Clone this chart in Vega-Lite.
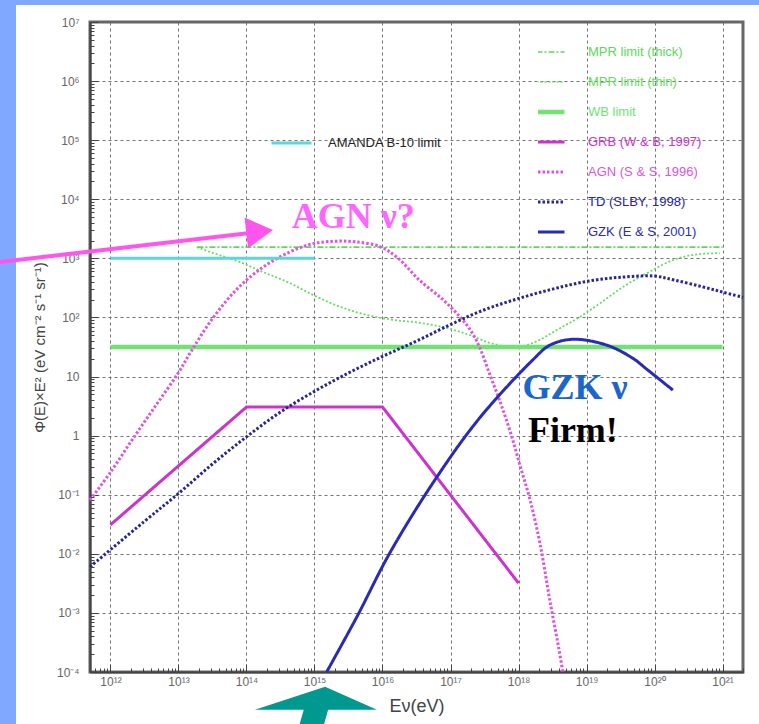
{
  "$schema": "https://vega.github.io/schema/vega-lite/v6.json",
  "width": 653,
  "height": 650,
  "autosize": {"type": "none"},
  "padding": {"left": 90, "top": 22, "right": 16, "bottom": 52},
  "background": "white",
  "config": {
    "view": {"stroke": "#666", "strokeWidth": 3},
    "axis": {"labelFont": "Liberation Sans", "titleFont": "Liberation Sans"}
  },
  "datasets": {
    "curves": [
      {"s": "MPR limit (thick)", "E": 1.9e13, "F": 1550},
      {"s": "MPR limit (thick)", "E": 1e21, "F": 1550},
      {"s": "MPR limit (thin)", "E": 1.86e13, "F": 1550},
      {"s": "MPR limit (thin)", "E": 3.24e13, "F": 1230},
      {"s": "MPR limit (thin)", "E": 7.94e13, "F": 871},
      {"s": "MPR limit (thin)", "E": 1.74e14, "F": 589},
      {"s": "MPR limit (thin)", "E": 4.37e14, "F": 380},
      {"s": "MPR limit (thin)", "E": 9.55e14, "F": 240},
      {"s": "MPR limit (thin)", "E": 2.4e15, "F": 151},
      {"s": "MPR limit (thin)", "E": 5.89e15, "F": 110},
      {"s": "MPR limit (thin)", "E": 1.45e16, "F": 91},
      {"s": "MPR limit (thin)", "E": 3.55e16, "F": 81},
      {"s": "MPR limit (thin)", "E": 8.91e16, "F": 66},
      {"s": "MPR limit (thin)", "E": 1.95e17, "F": 50},
      {"s": "MPR limit (thin)", "E": 3.8e17, "F": 37},
      {"s": "MPR limit (thin)", "E": 9.55e17, "F": 31.6},
      {"s": "MPR limit (thin)", "E": 1.62e18, "F": 37},
      {"s": "MPR limit (thin)", "E": 3.72e18, "F": 62},
      {"s": "MPR limit (thin)", "E": 7.94e18, "F": 102},
      {"s": "MPR limit (thin)", "E": 1.58e19, "F": 174},
      {"s": "MPR limit (thin)", "E": 3.47e19, "F": 331},
      {"s": "MPR limit (thin)", "E": 7.76e19, "F": 562},
      {"s": "MPR limit (thin)", "E": 1.86e20, "F": 933},
      {"s": "MPR limit (thin)", "E": 3.72e20, "F": 1150},
      {"s": "MPR limit (thin)", "E": 9.12e20, "F": 1230},
      {"s": "WB limit", "E": 1e12, "F": 31.6},
      {"s": "WB limit", "E": 1e21, "F": 31.6},
      {"s": "GRB (W & B, 1997)", "E": 1e12, "F": 0.031},
      {"s": "GRB (W & B, 1997)", "E": 1e14, "F": 3.05},
      {"s": "GRB (W & B, 1997)", "E": 1e16, "F": 3.05},
      {"s": "GRB (W & B, 1997)", "E": 1e18, "F": 0.0032},
      {"s": "AGN (S & S, 1996)", "E": 5.0e11, "F": 0.0813},
      {"s": "AGN (S & S, 1996)", "E": 1e12, "F": 0.24},
      {"s": "AGN (S & S, 1996)", "E": 2.14e12, "F": 0.89},
      {"s": "AGN (S & S, 1996)", "E": 4.57e12, "F": 3.16},
      {"s": "AGN (S & S, 1996)", "E": 9.77e12, "F": 11.2},
      {"s": "AGN (S & S, 1996)", "E": 1.58e13, "F": 28.2},
      {"s": "AGN (S & S, 1996)", "E": 3.16e13, "F": 95.5},
      {"s": "AGN (S & S, 1996)", "E": 7.24e13, "F": 302},
      {"s": "AGN (S & S, 1996)", "E": 1.74e14, "F": 708},
      {"s": "AGN (S & S, 1996)", "E": 4.37e14, "F": 1290},
      {"s": "AGN (S & S, 1996)", "E": 9.55e14, "F": 1780},
      {"s": "AGN (S & S, 1996)", "E": 2e15, "F": 1950},
      {"s": "AGN (S & S, 1996)", "E": 3.98e15, "F": 1905},
      {"s": "AGN (S & S, 1996)", "E": 9.12e15, "F": 1585},
      {"s": "AGN (S & S, 1996)", "E": 1.62e16, "F": 1050},
      {"s": "AGN (S & S, 1996)", "E": 3.55e16, "F": 420},
      {"s": "AGN (S & S, 1996)", "E": 7.76e16, "F": 200},
      {"s": "AGN (S & S, 1996)", "E": 1.38e17, "F": 102},
      {"s": "AGN (S & S, 1996)", "E": 1.95e17, "F": 61.7},
      {"s": "AGN (S & S, 1996)", "E": 2.69e17, "F": 30.9},
      {"s": "AGN (S & S, 1996)", "E": 3.8e17, "F": 10.7},
      {"s": "AGN (S & S, 1996)", "E": 5.37e17, "F": 3.72},
      {"s": "AGN (S & S, 1996)", "E": 7.59e17, "F": 1.15},
      {"s": "AGN (S & S, 1996)", "E": 1.05e18, "F": 0.316},
      {"s": "AGN (S & S, 1996)", "E": 1.48e18, "F": 0.0813},
      {"s": "AGN (S & S, 1996)", "E": 2.09e18, "F": 0.0141},
      {"s": "AGN (S & S, 1996)", "E": 2.88e18, "F": 0.00166},
      {"s": "AGN (S & S, 1996)", "E": 4.07e18, "F": 0.000195},
      {"s": "AGN (S & S, 1996)", "E": 4.47e18, "F": 0.0001},
      {"s": "TD (SLBY, 1998)", "E": 5.01e11, "F": 0.00603},
      {"s": "TD (SLBY, 1998)", "E": 3.16e12, "F": 0.0355},
      {"s": "TD (SLBY, 1998)", "E": 1e13, "F": 0.105},
      {"s": "TD (SLBY, 1998)", "E": 3.16e13, "F": 0.331},
      {"s": "TD (SLBY, 1998)", "E": 1e14, "F": 0.955},
      {"s": "TD (SLBY, 1998)", "E": 3.16e14, "F": 2.51},
      {"s": "TD (SLBY, 1998)", "E": 1e15, "F": 5.62},
      {"s": "TD (SLBY, 1998)", "E": 3.16e15, "F": 11.5},
      {"s": "TD (SLBY, 1998)", "E": 1e16, "F": 21.9},
      {"s": "TD (SLBY, 1998)", "E": 3.16e16, "F": 39.8},
      {"s": "TD (SLBY, 1998)", "E": 1e17, "F": 75.9},
      {"s": "TD (SLBY, 1998)", "E": 3.16e17, "F": 135},
      {"s": "TD (SLBY, 1998)", "E": 1e18, "F": 209},
      {"s": "TD (SLBY, 1998)", "E": 3.16e18, "F": 302},
      {"s": "TD (SLBY, 1998)", "E": 1e19, "F": 407},
      {"s": "TD (SLBY, 1998)", "E": 3.16e19, "F": 479},
      {"s": "TD (SLBY, 1998)", "E": 1e20, "F": 501},
      {"s": "TD (SLBY, 1998)", "E": 2e20, "F": 427},
      {"s": "TD (SLBY, 1998)", "E": 5e20, "F": 331},
      {"s": "TD (SLBY, 1998)", "E": 1e21, "F": 269},
      {"s": "TD (SLBY, 1998)", "E": 2e21, "F": 219},
      {"s": "GZK (E & S, 2001)", "E": 1.51e15, "F": 0.0001},
      {"s": "GZK (E & S, 2001)", "E": 4.27e15, "F": 0.00089},
      {"s": "GZK (E & S, 2001)", "E": 1.29e16, "F": 0.0105},
      {"s": "GZK (E & S, 2001)", "E": 6.31e16, "F": 0.2},
      {"s": "GZK (E & S, 2001)", "E": 2.69e17, "F": 2.0},
      {"s": "GZK (E & S, 2001)", "E": 1.62e18, "F": 19.1},
      {"s": "GZK (E & S, 2001)", "E": 2.88e18, "F": 33.9},
      {"s": "GZK (E & S, 2001)", "E": 6.3e18, "F": 42.7},
      {"s": "GZK (E & S, 2001)", "E": 2e19, "F": 33.9},
      {"s": "GZK (E & S, 2001)", "E": 4.79e19, "F": 20.4},
      {"s": "GZK (E & S, 2001)", "E": 7.76e19, "F": 13.2},
      {"s": "GZK (E & S, 2001)", "E": 1.86e20, "F": 5.9}
    ],
    "amanda": [
      {"name": "AMANDA B-10 limit", "E": 1e12, "F": 1000},
      {"name": "AMANDA B-10 limit", "E": 1e15, "F": 1000}
    ]
  },
  "layer": [
    {
      "data": {"name": "curves"},
      "transform": [{"filter": {"field": "s", "oneOf": ["MPR limit (thick)", "MPR limit (thin)"]}}],
      "mark": {"type": "line", "strokeCap": "butt", "strokeWidth": 1.8, "interpolate": "monotone"},
      "encoding": {
        "x": {
          "field": "E", "type": "quantitative",
          "scale": {"type": "log", "domain": [5e11, 2e21]},
          "axis": {
            "title": "Eν(eV)", "titleFontSize": 18, "titleFontWeight": "normal", "titleColor": "#444", "titlePadding": 6,
            "tickCount": 20, "labelOverlap": false, "labelFlush": false,
            "labelExpr": "abs(log(datum.value)/LN10 - round(log(datum.value)/LN10)) > 0.001 ? '' : round(log(datum.value)/LN10) == 0 ? '1' : round(log(datum.value)/LN10) == 1 ? '10' : '10' + (round(log(datum.value)/LN10) < 0 ? '⁻' : '') + ['','¹','²'][floor(abs(round(log(datum.value)/LN10))/10)] + ['⁰','¹','²','³','⁴','⁵','⁶','⁷','⁸','⁹'][abs(round(log(datum.value)/LN10)) % 10]",
            "labelFontSize": 12, "labelColor": "#666", "labelPadding": 12,
            "grid": true, "gridDash": [3, 3], "gridColor": "#666", "gridWidth": 1,
            "gridOpacity": {"condition": {"test": "abs(log(datum.value)/LN10 - round(log(datum.value)/LN10)) < 0.001", "value": 0.9}, "value": 0},
            "tickSize": {"condition": {"test": "abs(log(datum.value)/LN10 - round(log(datum.value)/LN10)) < 0.001", "value": -8}, "value": -4},
            "tickColor": "#444", "tickWidth": 1,
            "domainColor": "#444", "domainWidth": 2
          }
        },
        "y": {
          "field": "F", "type": "quantitative",
          "scale": {"type": "log", "domain": [1e-4, 1e7]},
          "axis": {
            "title": "Φ(E)×E² (eV cm⁻² s⁻¹ sr⁻¹)", "titleFontSize": 15, "titleFontWeight": "normal", "titleColor": "#444", "titlePadding": 9,
            "tickCount": 20, "labelOverlap": false, "labelFlush": false,
            "labelExpr": "abs(log(datum.value)/LN10 - round(log(datum.value)/LN10)) > 0.001 ? '' : round(log(datum.value)/LN10) == 0 ? '1' : round(log(datum.value)/LN10) == 1 ? '10' : '10' + (round(log(datum.value)/LN10) < 0 ? '⁻' : '') + ['','¹','²'][floor(abs(round(log(datum.value)/LN10))/10)] + ['⁰','¹','²','³','⁴','⁵','⁶','⁷','⁸','⁹'][abs(round(log(datum.value)/LN10)) % 10]",
            "labelFontSize": 12, "labelColor": "#666", "labelPadding": 19,
            "grid": true, "gridDash": [3, 3], "gridColor": "#666", "gridWidth": 1,
            "gridOpacity": {"condition": {"test": "abs(log(datum.value)/LN10 - round(log(datum.value)/LN10)) < 0.001", "value": 0.9}, "value": 0},
            "tickSize": {"condition": {"test": "abs(log(datum.value)/LN10 - round(log(datum.value)/LN10)) < 0.001", "value": -8}, "value": -4},
            "tickColor": "#444", "tickWidth": 1,
            "domainColor": "#444", "domainWidth": 2
          }
        },
        "color": {
          "field": "s", "type": "nominal",
          "scale": {
            "domain": ["MPR limit (thick)", "MPR limit (thin)", "WB limit", "GRB (W & B, 1997)", "AGN (S & S, 1996)", "TD (SLBY, 1998)", "GZK (E & S, 2001)"],
            "range": ["#5ed85a", "#66dd5e", "#72e272", "#cc33cc", "#dd55dd", "#262696", "#2a2ab8"]
          },
          "legend": {
            "orient": "none", "legendX": 448, "legendY": 20, "title": null,
            "symbolType": "stroke", "symbolSize": 1600, "clipHeight": 20, "rowPadding": 10,
            "labelOffset": 37, "labelFont": "Liberation Sans", "labelFontSize": 13, "labelLimit": 300, "padding": 0,
            "encode": {
              "labels": {"update": {"fill": {"scale": "color", "field": "value"}}},
              "symbols": {"update": {"strokeWidth": {"signal": "datum.value == 'WB limit' ? 4.5 : (datum.value == 'MPR limit (thick)' || datum.value == 'MPR limit (thin)') ? 1.5 : 3"}}}
            }
          }
        },
        "strokeDash": {
          "field": "s", "type": "nominal",
          "scale": {
            "domain": ["MPR limit (thick)", "MPR limit (thin)", "WB limit", "GRB (W & B, 1997)", "AGN (S & S, 1996)", "TD (SLBY, 1998)", "GZK (E & S, 2001)"],
            "range": [[6, 2, 2, 2], [2, 2], [1, 0], [1, 0], [2.5, 2], [2.5, 2], [1, 0]]
          }
        }
      }
    },
    {
      "data": {"name": "curves"},
      "transform": [{"filter": {"field": "s", "oneOf": ["WB limit"]}}],
      "mark": {"type": "line", "strokeCap": "butt", "strokeWidth": 4.5},
      "encoding": {
        "x": {"field": "E", "type": "quantitative", "scale": {"type": "log", "domain": [5e11, 2e21]}},
        "y": {"field": "F", "type": "quantitative", "scale": {"type": "log", "domain": [1e-4, 1e7]}},
        "color": {"field": "s", "type": "nominal", "scale": {"domain": ["MPR limit (thick)", "MPR limit (thin)", "WB limit", "GRB (W & B, 1997)", "AGN (S & S, 1996)", "TD (SLBY, 1998)", "GZK (E & S, 2001)"], "range": ["#5ed85a", "#66dd5e", "#72e272", "#cc33cc", "#dd55dd", "#262696", "#2a2ab8"]}},
        "strokeDash": {"field": "s", "type": "nominal", "scale": {"domain": ["MPR limit (thick)", "MPR limit (thin)", "WB limit", "GRB (W & B, 1997)", "AGN (S & S, 1996)", "TD (SLBY, 1998)", "GZK (E & S, 2001)"], "range": [[6, 2, 2, 2], [2, 2], [1, 0], [1, 0], [2.5, 2], [2.5, 2], [1, 0]]}}
      }
    },
    {
      "data": {"name": "curves"},
      "transform": [{"filter": {"field": "s", "oneOf": ["GRB (W & B, 1997)"]}}],
      "mark": {"type": "line", "strokeCap": "butt", "strokeWidth": 3},
      "encoding": {
        "x": {"field": "E", "type": "quantitative", "scale": {"type": "log", "domain": [5e11, 2e21]}},
        "y": {"field": "F", "type": "quantitative", "scale": {"type": "log", "domain": [1e-4, 1e7]}},
        "color": {"field": "s", "type": "nominal", "scale": {"domain": ["MPR limit (thick)", "MPR limit (thin)", "WB limit", "GRB (W & B, 1997)", "AGN (S & S, 1996)", "TD (SLBY, 1998)", "GZK (E & S, 2001)"], "range": ["#5ed85a", "#66dd5e", "#72e272", "#cc33cc", "#dd55dd", "#262696", "#2a2ab8"]}},
        "strokeDash": {"field": "s", "type": "nominal", "scale": {"domain": ["MPR limit (thick)", "MPR limit (thin)", "WB limit", "GRB (W & B, 1997)", "AGN (S & S, 1996)", "TD (SLBY, 1998)", "GZK (E & S, 2001)"], "range": [[6, 2, 2, 2], [2, 2], [1, 0], [1, 0], [2.5, 2], [2.5, 2], [1, 0]]}}
      }
    },
    {
      "data": {"name": "curves"},
      "transform": [{"filter": {"field": "s", "oneOf": ["AGN (S & S, 1996)", "TD (SLBY, 1998)", "GZK (E & S, 2001)"]}}],
      "mark": {"type": "line", "strokeCap": "butt", "strokeWidth": 3, "interpolate": "catmull-rom"},
      "encoding": {
        "x": {"field": "E", "type": "quantitative", "scale": {"type": "log", "domain": [5e11, 2e21]}},
        "y": {"field": "F", "type": "quantitative", "scale": {"type": "log", "domain": [1e-4, 1e7]}},
        "color": {"field": "s", "type": "nominal", "scale": {"domain": ["MPR limit (thick)", "MPR limit (thin)", "WB limit", "GRB (W & B, 1997)", "AGN (S & S, 1996)", "TD (SLBY, 1998)", "GZK (E & S, 2001)"], "range": ["#5ed85a", "#66dd5e", "#72e272", "#cc33cc", "#dd55dd", "#262696", "#2a2ab8"]}},
        "strokeDash": {"field": "s", "type": "nominal", "scale": {"domain": ["MPR limit (thick)", "MPR limit (thin)", "WB limit", "GRB (W & B, 1997)", "AGN (S & S, 1996)", "TD (SLBY, 1998)", "GZK (E & S, 2001)"], "range": [[6, 2, 2, 2], [2, 2], [1, 0], [1, 0], [2.5, 2], [2.5, 2], [1, 0]]}}
      }
    },
    {
      "data": {"name": "amanda"},
      "mark": {"type": "line", "strokeWidth": 3},
      "encoding": {
        "x": {"field": "E", "type": "quantitative", "scale": {"type": "log", "domain": [5e11, 2e21]}},
        "y": {"field": "F", "type": "quantitative", "scale": {"type": "log", "domain": [1e-4, 1e7]}},
        "stroke": {
          "field": "name", "type": "nominal",
          "scale": {"domain": ["AMANDA B-10 limit"], "range": ["#5ad6dc"]},
          "legend": {
            "orient": "none", "legendX": 180, "legendY": 111, "title": null,
            "symbolType": "stroke", "symbolSize": 1600, "symbolStrokeWidth": 3, "clipHeight": 20,
            "labelOffset": 15, "labelFont": "Liberation Sans", "labelFontSize": 13, "labelColor": "#222", "padding": 0
          }
        }
      }
    },
    {
      "data": {"values": [{}]},
      "mark": {"type": "rect", "color": "#80a8ff"},
      "encoding": {
        "x": {"datum": 1e10, "type": "quantitative", "scale": {"type": "log", "domain": [5e11, 2e21]}},
        "x2": {"datum": 4.08e10},
        "y": {"datum": 1e9, "type": "quantitative", "scale": {"type": "log", "domain": [1e-4, 1e7]}},
        "y2": {"datum": 1e-6}
      }
    },
    {
      "data": {"values": [{}]},
      "mark": {"type": "rect", "color": "#80a8ff"},
      "encoding": {
        "x": {"datum": 1e10, "type": "quantitative", "scale": {"type": "log", "domain": [5e11, 2e21]}},
        "x2": {"datum": 1e23},
        "y": {"datum": 1e9, "type": "quantitative", "scale": {"type": "log", "domain": [1e-4, 1e7]}},
        "y2": {"datum": 1.94e7}
      }
    },
    {
      "data": {"values": [{"t": "AGN ν?"}]},
      "mark": {"type": "text", "font": "Liberation Serif", "fontWeight": "bold", "fontSize": 36, "color": "#ff66ff", "align": "center", "baseline": "alphabetic"},
      "encoding": {
        "x": {"datum": 3.72e15, "type": "quantitative", "scale": {"type": "log", "domain": [5e11, 2e21]}},
        "y": {"datum": 3236, "type": "quantitative", "scale": {"type": "log", "domain": [1e-4, 1e7]}},
        "text": {"field": "t"}
      }
    },
    {
      "data": {"values": [{"t": "GZK ν"}]},
      "mark": {"type": "text", "font": "Liberation Serif", "fontWeight": "bold", "fontSize": 36, "color": "#1a66cc", "align": "center", "baseline": "alphabetic"},
      "encoding": {
        "x": {"datum": 6.76e18, "type": "quantitative", "scale": {"type": "log", "domain": [5e11, 2e21]}},
        "y": {"datum": 4.17, "type": "quantitative", "scale": {"type": "log", "domain": [1e-4, 1e7]}},
        "text": {"field": "t"}
      }
    },
    {
      "data": {"values": [{"t": "Firm!"}]},
      "mark": {"type": "text", "font": "Liberation Serif", "fontWeight": "bold", "fontSize": 36, "color": "#000000", "align": "center", "baseline": "alphabetic"},
      "encoding": {
        "x": {"datum": 6.3e18, "type": "quantitative", "scale": {"type": "log", "domain": [5e11, 2e21]}},
        "y": {"datum": 0.78, "type": "quantitative", "scale": {"type": "log", "domain": [1e-4, 1e7]}},
        "text": {"field": "t"}
      }
    },
    {
      "data": {"values": [{}]},
      "mark": {"type": "rule", "color": "#ff55ee", "strokeWidth": 4},
      "encoding": {
        "x": {"datum": 2.0e10, "type": "quantitative", "scale": {"type": "log", "domain": [5e11, 2e21]}},
        "y": {"datum": 851, "type": "quantitative", "scale": {"type": "log", "domain": [1e-4, 1e7]}},
        "x2": {"datum": 1.127e14},
        "y2": {"datum": 2685}
      }
    },
    {
      "data": {"values": [{}]},
      "mark": {"type": "point", "shape": "triangle-right", "filled": true, "color": "#ff55ee", "opacity": 1, "size": 961, "angle": -6.5},
      "encoding": {
        "x": {"datum": 1.56e14, "type": "quantitative", "scale": {"type": "log", "domain": [5e11, 2e21]}},
        "y": {"datum": 2858, "type": "quantitative", "scale": {"type": "log", "domain": [1e-4, 1e7]}}
      }
    },
    {
      "data": {"values": [{}]},
      "mark": {"type": "point", "shape": "M0.15,-0.3L1,0.08L0.2,0.08L0.05,0.6L-0.35,0.6L-0.2,0.08L-1,0.08Z", "filled": true, "color": "#00998f", "opacity": 1, "size": 14884},
      "encoding": {
        "x": {"datum": 1.05e15, "type": "quantitative", "scale": {"type": "log", "domain": [5e11, 2e21]}},
        "y": {"datum": 2.77e-5, "type": "quantitative", "scale": {"type": "log", "domain": [1e-4, 1e7]}}
      }
    }
  ]
}
